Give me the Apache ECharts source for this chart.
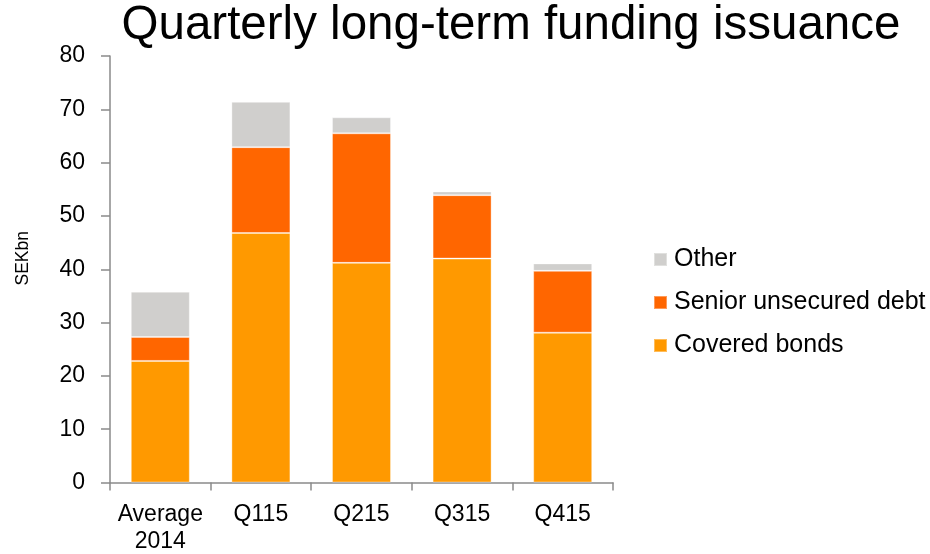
<!DOCTYPE html>
<html>
<head>
<meta charset="utf-8">
<script src="https://cdn.jsdelivr.net/npm/echarts@6/dist/echarts.min.js"></script>
<style>
  html, body { margin: 0; padding: 0; background: #fff; }
  #chart { width: 930px; height: 554px; }
</style>
</head>
<body>
<div id="chart"></div>
<script>
// Quarterly long-term funding issuance, SEK bn
const categories = ['Average\n2014', 'Q115', 'Q215', 'Q315', 'Q415'];
const coveredBonds = [22.8, 46.8, 41.2, 42.0, 28.1];
const seniorUnsecured = [4.5, 16.1, 24.3, 11.9, 11.6];
const other = [8.5, 8.5, 3.0, 0.7, 1.4];
const yTicks = { min: 0, max: 80, interval: 10 };

const FONT = '"Liberation Sans", Arial, sans-serif';
const AXIS_COLOR = '#8a8a8a';

const chart = echarts.init(document.getElementById('chart'), null, { renderer: 'canvas' });

const barStyle = (color) => ({
  color: color,
  borderColor: 'rgba(255,255,255,0.35)',
  borderWidth: 1
});

chart.setOption({
  animation: false,
  backgroundColor: '#ffffff',
  title: {
    text: 'Quarterly long-term funding issuance',
    left: 506,
    textAlign: 'center',
    top: -3,
    textStyle: { fontFamily: FONT, fontSize: 47.5, fontWeight: 'normal', color: '#000' }
  },
  graphic: [{
    type: 'text',
    left: 14,
    top: 231,
    rotation: Math.PI / 2,
    style: { text: 'SEKbn', fontFamily: FONT, fontSize: 17.5, fill: '#000' }
  }],
  legend: {
    orient: 'vertical',
    left: 653,
    top: 247,
    padding: 0,
    itemWidth: 13,
    itemHeight: 13,
    itemGap: 18,
    icon: 'rect',
    data: ['Other', 'Senior unsecured debt', 'Covered bonds'],
    textStyle: { fontFamily: FONT, fontSize: 25, color: '#000', lineHeight: 25, padding: [0, 0, 0, 2] }
  },
  grid: { left: 110, right: 317, top: 56, bottom: 71.5, outerBoundsMode: 'none' },
  xAxis: {
    type: 'category',
    data: categories,
    axisLine: { lineStyle: { color: AXIS_COLOR, width: 1.5 } },
    axisTick: { show: true, length: 8, lineStyle: { color: AXIS_COLOR, width: 1.5 } },
    axisLabel: { fontFamily: FONT, fontSize: 23, color: '#000', margin: 19, lineHeight: 27, interval: 0 }
  },
  yAxis: {
    type: 'value',
    min: yTicks.min,
    max: yTicks.max,
    interval: yTicks.interval,
    splitLine: { show: false },
    axisLine: { show: true, lineStyle: { color: AXIS_COLOR, width: 1.5 } },
    axisTick: { show: true, length: 9, lineStyle: { color: AXIS_COLOR, width: 1.5 } },
    axisLabel: { fontFamily: FONT, fontSize: 23, color: '#000', margin: 25 }
  },
  series: [
    {
      name: 'Covered bonds', type: 'bar', stack: 'total', barWidth: 59,
      itemStyle: barStyle('#ff9900'), data: coveredBonds
    },
    {
      name: 'Senior unsecured debt', type: 'bar', stack: 'total', barWidth: 59,
      itemStyle: barStyle('#ff6600'), data: seniorUnsecured
    },
    {
      name: 'Other', type: 'bar', stack: 'total', barWidth: 59,
      itemStyle: barStyle('#d0cfcd'), data: other
    }
  ]
});
</script>
</body>
</html>
